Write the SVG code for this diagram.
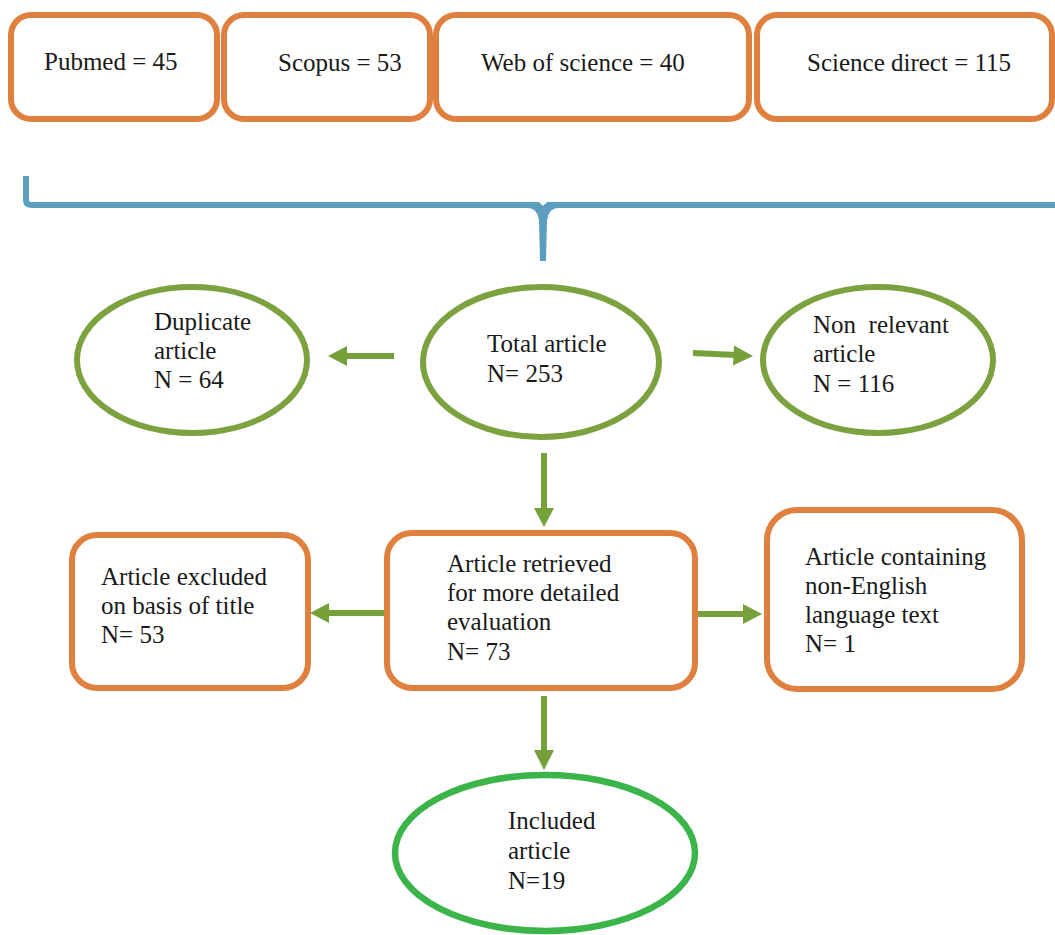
<svg xmlns="http://www.w3.org/2000/svg" width="1055" height="935" viewBox="0 0 1055 935">
<style>
text{font-family:"Liberation Serif","Times New Roman",serif;font-size:25px;fill:#1a1a1a}
.box{fill:#fff;stroke:#E0803E;stroke-width:6}
.ell{fill:#fff;stroke:#7BA23F;stroke-width:6}
.inc{fill:#fff;stroke:#3BB44A;stroke-width:6.5}
.arr{stroke:#76A13A;stroke-width:6;fill:none}
.head{fill:#76A13A}
.br{stroke:#5B9EC0;stroke-width:6;fill:none}
</style>
<rect width="1055" height="935" fill="#fff"/>
<g id="pubmed"><rect class="box" x="11" y="15" width="206" height="104" rx="20"/><text x="44" y="70">Pubmed = 45</text></g>
<g id="scopus"><rect class="box" x="224" y="15" width="206" height="104" rx="20"/><text x="278" y="71">Scopus = 53</text></g>
<g id="wos"><rect class="box" x="436" y="15" width="313" height="104" rx="20"/><text x="481" y="71">Web of science = 40</text></g>
<g id="sciencedirect"><rect class="box" x="757" y="15" width="295" height="104" rx="20"/><text x="807" y="71">Science direct = 115</text></g>
<g id="connectors">
<path class="br" d="M26,176 L26,200 Q26,205 32,205 L530,205 M556,205 L1055,205"/>
<path d="M528,202 L539,202 L543,206 L547,202 L558,202 L558,208 Q549,208 547,220 L546,261 L540,261 L539,220 Q537,208 528,208 Z" fill="#5B9EC0"/>
<line class="arr" x1="394" y1="356" x2="345" y2="356"/><polygon class="head" points="328,356 347,346 347,366"/>
<line class="arr" x1="693" y1="353" x2="736" y2="355"/><polygon class="head" points="753,356 734,345.5 733,365.5"/>
<line class="arr" x1="544" y1="453" x2="544" y2="510"/><polygon class="head" points="544,527 534,508 554,508"/>
<line class="arr" x1="384" y1="613" x2="326" y2="613"/><polygon class="head" points="310,613 329,603 329,623"/>
<line class="arr" x1="697" y1="614" x2="745" y2="614"/><polygon class="head" points="762,614 743,604 743,624"/>
<line class="arr" x1="544" y1="696" x2="544" y2="752"/><polygon class="head" points="544,770 534,750 554,750"/>
</g>
<g id="duplicate"><ellipse class="ell" cx="192" cy="360" rx="115" ry="73"/><text x="154" y="330">Duplicate</text><text x="154" y="359">article</text><text x="154" y="388">N = 64</text></g>
<g id="total"><ellipse class="ell" cx="541" cy="362" rx="118" ry="75"/><text x="487" y="352">Total article</text><text x="487" y="382">N= 253</text></g>
<g id="nonrelevant"><ellipse class="ell" cx="878" cy="360" rx="115" ry="73"/><text x="813" y="333" xml:space="preserve">Non  relevant</text><text x="813" y="362">article</text><text x="813" y="392">N = 116</text></g>
<g id="excluded"><rect class="box" x="72" y="535" width="236" height="153" rx="25"/><text x="101" y="585">Article excluded</text><text x="101" y="614">on basis of title</text><text x="101" y="643">N= 53</text></g>
<g id="retrieved"><rect class="box" x="387" y="533" width="308" height="155" rx="25"/><text x="447" y="572">Article retrieved</text><text x="447" y="601">for more detailed</text><text x="447" y="630">evaluation</text><text x="447" y="660">N= 73</text></g>
<g id="nonenglish"><rect class="box" x="767" y="510" width="255" height="179" rx="30"/><text x="805" y="565">Article containing</text><text x="805" y="594">non-English</text><text x="805" y="623">language text</text><text x="805" y="652">N= 1</text></g>
<g id="included"><ellipse class="inc" cx="545" cy="853" rx="150" ry="78"/><text x="508" y="829">Included</text><text x="508" y="859">article</text><text x="508" y="889">N=19</text></g>
</svg>
